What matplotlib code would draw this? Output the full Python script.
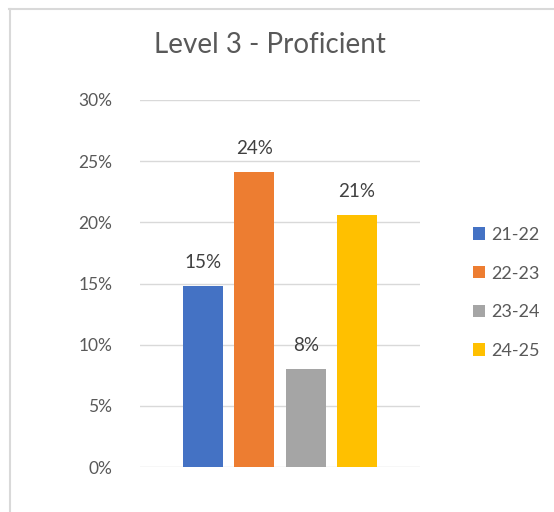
import matplotlib
matplotlib.use('Agg')
import matplotlib.pyplot as plt
from matplotlib.lines import Line2D
from matplotlib.patches import Patch

seasons = ['21-22', '22-23', '23-24', '24-25']
values = [14.8, 24.1, 8.0, 20.6]
colors = ['#4472C4', '#ED7D31', '#A5A5A5', '#FFC000']
y_ticks = [0, 5, 10, 15, 20, 25, 30]

plt.rcParams['font.family'] = ['Lato', 'DejaVu Sans']

W, H = 554, 512
fig = plt.figure(figsize=(W / 100, H / 100), dpi=100)
fig.patch.set_facecolor('white')

# light frame around the chart (top and left edges visible)
fig.add_artist(Line2D([9 / W, 1], [1 - 9 / H, 1 - 9 / H], color='#D9D9D9', lw=1.5))
fig.add_artist(Line2D([9.5 / W, 9.5 / W], [0, 1 - 9 / H], color='#D9D9D9', lw=1.5))

ax = fig.add_axes([140 / W, (H - 467) / H, 280 / W, 367 / H])
for i, (season, val, col) in enumerate(zip(seasons, values, colors)):
    ax.bar(i, val, width=0.78, color=col, label=season, zorder=3)
    ax.annotate(f'{val:.0f}%', (i, val), xytext=(0, 17), textcoords='offset points',
                ha='center', va='center', fontsize=13.5, color='#404040')

ax.set_xlim(-1.23, 4.23)
ax.set_ylim(0, 30)
ax.set_yticks(y_ticks)
ax.set_yticklabels([f'{t}%' for t in y_ticks], fontsize=12.5, color='#595959')
ax.set_xticks([])
ax.tick_params(axis='y', length=0, pad=20)
ax.grid(axis='y', color='#D9D9D9', lw=1, zorder=0)
for s in ax.spines.values():
    s.set_visible(False)

fig.text(270 / W, 1 - 45 / H, 'Level 3 - Proficient', ha='center', va='center',
         fontsize=20, color='#595959')

handles = [Patch(facecolor=c, edgecolor='none') for c in colors]
fig.legend(handles, seasons, loc='upper left', bbox_to_anchor=(464 / W, 1 - 218 / H),
           frameon=False, fontsize=13, handlelength=0.68, handleheight=0.68,
           handletextpad=0.3, labelspacing=1.25, borderpad=0, labelcolor='#595959')

fig.savefig('out.png', dpi=100)
